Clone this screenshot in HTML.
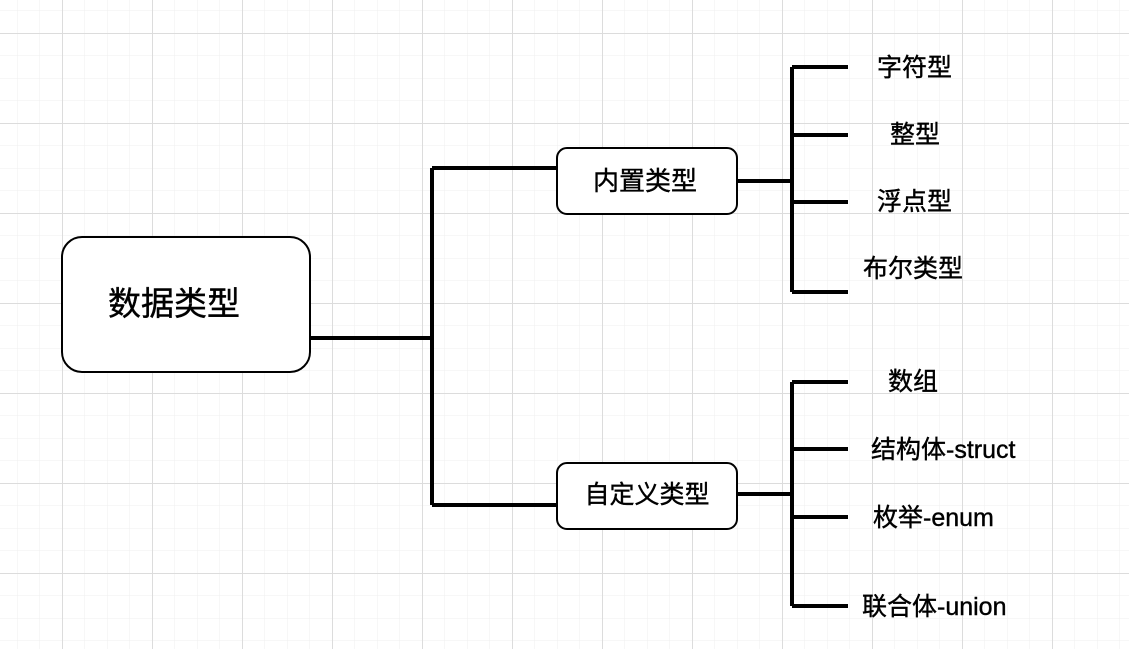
<!DOCTYPE html>
<html><head><meta charset="utf-8"><style>
html,body{margin:0;padding:0;width:1129px;height:649px;overflow:hidden;background:#fff}
</style></head><body>
<svg width="1129" height="649" xmlns="http://www.w3.org/2000/svg" font-family="'Liberation Sans','Noto Sans CJK SC',sans-serif">
<defs>
<pattern id="minor" x="-5.5" y="10.5" width="22.5" height="22.5" patternUnits="userSpaceOnUse">
<path d="M0 0H22.5M0 0V22.5" stroke="#efefef" stroke-width="1" fill="none"/>
</pattern>
<pattern id="major" x="62" y="33" width="90" height="90" patternUnits="userSpaceOnUse">
<path d="M0 0.5H90M0.5 0V90" stroke="#dcdcdc" stroke-width="1" fill="none"/>
</pattern>
</defs>
<rect width="1129" height="649" fill="url(#minor)"/>
<rect width="1129" height="649" fill="url(#major)"/>
<g stroke="#000" stroke-width="4" fill="none">
<path d="M310 338H432M432 168V505M432 168H557M432 505H557"/>
<path d="M737 181H792M792 67V292M792 67H848M792 135H848M792 202H848M792 292H848"/>
<path d="M737 494H792M792 382V606M792 382H848M792 449H848M792 517H848M792 606H848"/>
</g>
<g stroke="#000" stroke-width="2" fill="#fff">
<rect x="62" y="237" width="248" height="135" rx="20"/>
<rect x="557" y="148" width="180" height="66" rx="10"/>
<rect x="557" y="463" width="180" height="66" rx="10"/>
</g>
<g fill="#000" stroke="#000" stroke-width="0.4">
<text x="174" y="315" font-size="33" text-anchor="middle">数据类型</text>
<text x="645" y="190" font-size="26" text-anchor="middle">内置类型</text>
<text x="647" y="503" font-size="25" text-anchor="middle">自定义类型</text>
<g font-size="25">
<text x="877" y="76">字符型</text>
<text x="890" y="143">整型</text>
<text x="877" y="210">浮点型</text>
<text x="863" y="277">布尔类型</text>
<text x="888" y="390">数组</text>
<text x="871" y="458">结构体-struct</text>
<text x="873" y="526">枚举-enum</text>
<text x="862" y="615">联合体-union</text>
</g>
</g>
</svg>
</body></html>
